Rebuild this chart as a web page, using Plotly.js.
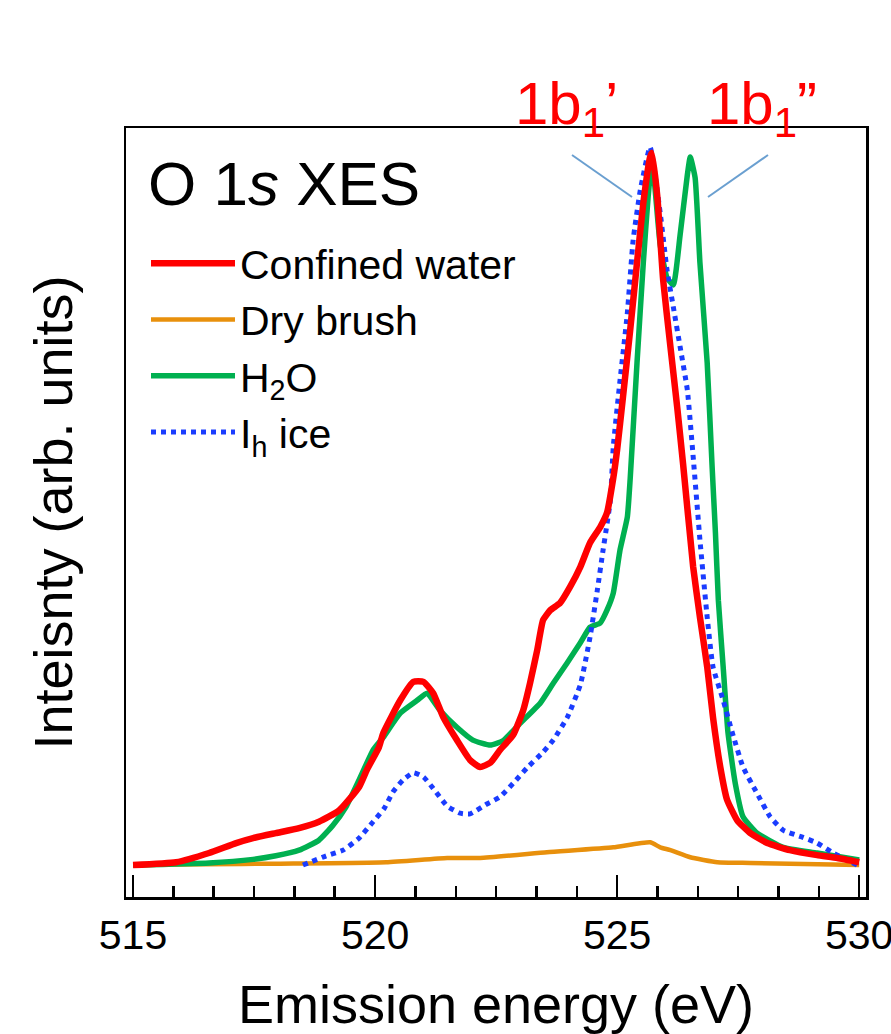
<!DOCTYPE html>
<html>
<head>
<meta charset="utf-8">
<script src="https://cdn.plot.ly/plotly-3.0.1.min.js"></script>
<style>html,body{margin:0;padding:0;background:#fff;}#chart{width:891px;height:1034px;}</style>
</head>
<body>
<div id="chart"></div>
<script>
// ---- Data (emission energy in eV, intensity in arb. units) ----
const seriesNames = ["Confined water", "Dry brush", "H<sub>2</sub>O", "I<sub>h</sub> ice"];

const confinedE = [515.00, 515.89, 516.57, 517.13, 517.48, 517.95, 518.43, 518.84, 519.26, 519.67, 519.83, 520.08, 520.17, 520.52, 520.79, 521.00, 521.20, 521.41, 521.69, 521.96, 522.17, 522.38, 522.58, 522.85, 523.06, 523.20, 523.35, 523.47, 523.62, 523.82, 524.03, 524.24, 524.44, 524.65, 524.79, 524.92, 525.00, 525.12, 525.27, 525.41, 525.54, 525.68, 525.72, 525.83, 525.95, 526.10, 526.24, 526.36, 526.57, 526.71, 526.86, 526.98, 527.13, 527.27, 527.48, 527.75, 528.10, 528.57, 529.13, 529.55, 530.00];
const confinedI = [0.000, 0.004, 0.017, 0.031, 0.038, 0.045, 0.052, 0.061, 0.077, 0.110, 0.134, 0.166, 0.186, 0.232, 0.258, 0.258, 0.242, 0.208, 0.176, 0.148, 0.138, 0.144, 0.162, 0.183, 0.218, 0.256, 0.303, 0.345, 0.359, 0.369, 0.392, 0.420, 0.454, 0.476, 0.496, 0.545, 0.585, 0.659, 0.754, 0.848, 0.932, 0.997, 1.003, 0.941, 0.824, 0.730, 0.645, 0.566, 0.420, 0.349, 0.279, 0.208, 0.138, 0.092, 0.063, 0.045, 0.031, 0.021, 0.014, 0.010, 0.004];

const dryE = [515.00, 516.50, 518.00, 520.23, 521.49, 522.17, 523.55, 524.92, 525.68, 525.89, 526.10, 526.51, 527.07, 527.75, 530.00];
const dryI = [0.000, 0.001, 0.002, 0.004, 0.010, 0.010, 0.018, 0.025, 0.032, 0.025, 0.021, 0.011, 0.004, 0.003, 0.000];

const waterE = [515.00, 516.57, 517.48, 517.95, 518.43, 518.84, 519.13, 519.40, 519.67, 519.96, 520.17, 520.52, 520.87, 521.07, 521.34, 521.69, 522.02, 522.38, 522.64, 523.00, 523.41, 523.68, 523.97, 524.24, 524.44, 524.65, 524.79, 524.92, 525.06, 525.21, 525.27, 525.41, 525.54, 525.64, 525.72, 525.89, 526.03, 526.16, 526.30, 526.45, 526.51, 526.61, 526.71, 526.86, 526.96, 527.03, 527.09, 527.19, 527.29, 527.44, 527.60, 527.89, 528.43, 529.13, 530.00];
const waterI = [0.000, 0.003, 0.008, 0.013, 0.021, 0.035, 0.056, 0.082, 0.120, 0.162, 0.180, 0.214, 0.232, 0.242, 0.218, 0.194, 0.176, 0.169, 0.175, 0.200, 0.228, 0.256, 0.285, 0.313, 0.335, 0.341, 0.359, 0.383, 0.444, 0.490, 0.545, 0.707, 0.848, 0.941, 0.993, 0.873, 0.827, 0.817, 0.887, 0.972, 0.997, 0.968, 0.848, 0.707, 0.563, 0.468, 0.373, 0.279, 0.186, 0.115, 0.068, 0.045, 0.025, 0.017, 0.007];

const iceE = [518.51, 518.99, 519.34, 519.67, 519.96, 520.19, 520.37, 520.58, 520.79, 521.00, 521.20, 521.49, 521.76, 521.96, 522.31, 522.58, 522.85, 523.14, 523.47, 523.68, 523.97, 524.24, 524.44, 524.59, 524.71, 524.86, 524.92, 525.06, 525.21, 525.33, 525.48, 525.68, 525.89, 526.03, 526.16, 526.30, 526.45, 526.57, 526.71, 526.86, 526.98, 527.19, 527.38, 527.60, 527.89, 528.16, 528.43, 528.84, 529.13, 529.46, 529.96];
const iceI = [0.000, 0.013, 0.021, 0.038, 0.061, 0.080, 0.103, 0.120, 0.130, 0.124, 0.108, 0.083, 0.073, 0.072, 0.086, 0.096, 0.115, 0.137, 0.159, 0.176, 0.208, 0.254, 0.321, 0.387, 0.444, 0.514, 0.589, 0.683, 0.777, 0.880, 0.951, 1.011, 0.918, 0.838, 0.786, 0.730, 0.669, 0.575, 0.458, 0.349, 0.279, 0.232, 0.186, 0.138, 0.101, 0.068, 0.049, 0.039, 0.031, 0.017, 0.000];

const xTickVals = [515, 520, 525, 530];
const xTickText = ["515", "520", "525", "530"];
const peakLabels = ["1b<sub>1</sub>\u2019", "1b<sub>1</sub>\u201D"];

// ---- Styling ----
const FONT = "Liberation Sans, Arial, Helvetica, sans-serif";
const colors = {red: "#ff0000", orange: "#e8900c", green: "#00b050", blue: "#1a3cff"};
const SMOOTH = 0.45;

const traces = [
  {x: dryE, y: dryI, name: seriesNames[1], legendrank: 2, mode: "lines",
   line: {color: colors.orange, width: 4.5, shape: "spline", smoothing: SMOOTH}},
  {x: waterE, y: waterI, name: seriesNames[2], legendrank: 3, mode: "lines",
   line: {color: colors.green, width: 5.5, shape: "spline", smoothing: SMOOTH}},
  {x: iceE, y: iceI, name: seriesNames[3], legendrank: 4, mode: "lines",
   line: {color: colors.blue, width: 5, dash: "dot", shape: "spline", smoothing: SMOOTH}},
  {x: confinedE, y: confinedI, name: seriesNames[0], legendrank: 1, mode: "lines",
   line: {color: colors.red, width: 6.5, shape: "spline", smoothing: SMOOTH}}
];

// plot area in px: left 126, right 866, top 128, bottom 897
const L = 126, R = 866, T = 128, B = 897;
const px = v => (v - L) / (R - L);
const py = v => (B - v) / (B - T);

const layout = {
  width: 891, height: 1034,
  margin: {l: L, r: 891 - R, t: T, b: 1034 - B, pad: 0},
  paper_bgcolor: "#ffffff", plot_bgcolor: "#ffffff",
  font: {family: FONT, color: "#000000"},
  showlegend: true,
  legend: {x: px(146), y: py(230), xanchor: "left", yanchor: "top",
           bgcolor: "rgba(0,0,0,0)", borderwidth: 0, itemwidth: 84,
           font: {family: FONT, size: 41, color: "#000"}, traceorder: "normal"},
  xaxis: {
    range: [514.855, 530.14], showgrid: false, zeroline: false,
    showline: true, linecolor: "#000", linewidth: 2.5, mirror: true,
    ticks: "inside", ticklen: 22, tickwidth: 2.5, tickcolor: "#000",
    tickmode: "array", tickvals: xTickVals, ticktext: xTickText,
    ticklabelstandoff: 0, ticklabeloverflow: "allow",
    tickfont: {family: FONT, size: 41, color: "#000"},
    minor: {ticks: "inside", ticklen: 11, tickwidth: 2.5, tickcolor: "#000", tick0: 515, dtick: 5/6, showgrid: false},
    title: {text: "Emission energy (eV)", font: {family: FONT, size: 54, color: "#000"}, standoff: 48}
  },
  yaxis: {
    range: [-0.045, 1.038], showgrid: false, zeroline: false,
    showline: true, linecolor: "#000", linewidth: 2.5, mirror: true,
    ticks: "", showticklabels: false,
    title: {text: "Inteisnty (arb. units)", font: {family: FONT, size: 54, color: "#000"}, standoff: 34}
  },
  annotations: [
    {xref: "paper", yref: "paper", x: px(146), y: py(183), xanchor: "left", yanchor: "middle",
     text: "O 1<i>s</i> XES", showarrow: false, font: {family: FONT, size: 62, color: "#000"}},
    {xref: "paper", yref: "paper", x: px(566), y: py(108), xanchor: "center", yanchor: "middle",
     text: peakLabels[0], showarrow: false, font: {family: FONT, size: 60, color: colors.red}},
    {xref: "paper", yref: "paper", x: px(762), y: py(108), xanchor: "center", yanchor: "middle",
     text: peakLabels[1], showarrow: false, font: {family: FONT, size: 60, color: colors.red}}
  ],
  shapes: [
    {type: "line", xref: "paper", yref: "paper", x0: px(572), y0: py(155), x1: px(632), y1: py(197),
     line: {color: "#6a9fd0", width: 2}},
    {type: "line", xref: "paper", yref: "paper", x0: px(768), y0: py(155), x1: px(708), y1: py(197),
     line: {color: "#6a9fd0", width: 2}}
  ]
};

Plotly.newPlot("chart", traces, layout, {displayModeBar: false, staticPlot: true});
</script>
</body>
</html>
